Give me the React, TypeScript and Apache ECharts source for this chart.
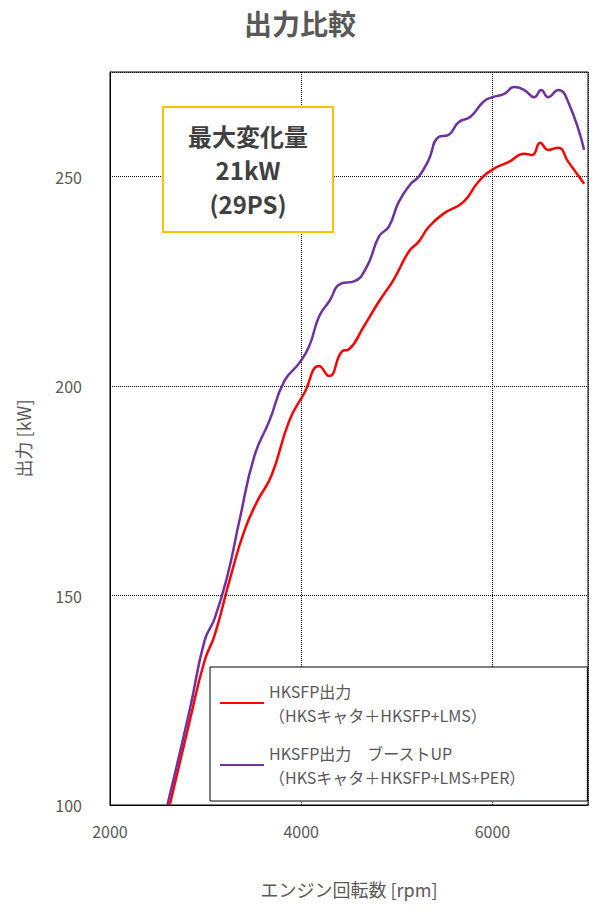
import { useEffect, useRef } from 'react';
import * as echarts from 'echarts';

const redRpm = [2625, 2833, 2990, 3094, 3250, 3406, 3542, 3688, 3875, 4031, 4188, 4292, 4427, 4500, 4656, 4813, 4969, 5125, 5229, 5333, 5490, 5698, 5854, 6000, 6177, 6333, 6417, 6500, 6583, 6688, 6792, 6960];
const redKw = [100, 120, 134.5, 140.5, 153.6, 165.5, 172.6, 178.6, 191.7, 198.3, 204.8, 202.4, 208.3, 208.8, 214.3, 220.2, 225.5, 232.1, 234.5, 238, 241.2, 244, 248.8, 251.7, 253.6, 255.5, 255.2, 258.1, 256.4, 256.9, 253.6, 248.3];
const purpleRpm = [2600, 2833, 2990, 3094, 3229, 3354, 3510, 3667, 3823, 3979, 4083, 4188, 4292, 4417, 4552, 4688, 4813, 4917, 5021, 5146, 5229, 5333, 5437, 5542, 5646, 5771, 5906, 6000, 6125, 6229, 6333, 6438, 6510, 6583, 6688, 6792, 6960];
const purpleKw = [100, 122.6, 139.3, 144.5, 154.8, 167.9, 183.3, 191.7, 201.2, 205.5, 209.5, 216.7, 220.2, 224.5, 225, 228.6, 235.7, 238.1, 244, 248.3, 250, 254, 259.5, 260, 263, 264.3, 267.9, 269, 269.8, 271.4, 270.7, 269, 270.7, 269, 270.7, 267.9, 256.4];
const seriesNames = ['HKSFP出力\n（HKSキャタ＋HKSFP+LMS）', 'HKSFP出力　ブーストUP\n（HKSキャタ＋HKSFP+LMS+PER）'];

const font = '"Noto Sans CJK JP", sans-serif';

const App = () => {
  const chartRef = useRef<HTMLDivElement>(null);

  useEffect(() => {
    if (!chartRef.current) return;
    const myChart = echarts.init(chartRef.current, null, { renderer: 'svg' });

    const option = {
      animation: false,
      textStyle: { fontFamily: font },
      title: {
        text: '出力比較',
        left: 'center',
        top: 4,
        textStyle: { fontFamily: font, fontSize: 28, fontWeight: 'bold', color: '#595959' }
      },
      grid: { left: 110, right: 12, top: 72, bottom: 113 },
      legend: {
        orient: 'vertical',
        left: 210,
        top: 667,
        width: 360,
        padding: [12, 62, 12, 10],
        itemGap: 14,
        itemWidth: 44,
        itemHeight: 2,
        borderColor: '#000',
        borderWidth: 1,
        backgroundColor: '#fff',
        icon: 'rect',
        textStyle: { fontFamily: font, fontSize: 16, color: '#595959', lineHeight: 24 },
        data: seriesNames
      },
      xAxis: {
        type: 'value',
        min: 2000,
        max: 7000,
        interval: 2000,
        name: 'エンジン回転数 [rpm]',
        nameLocation: 'middle',
        nameGap: 75,
        nameTextStyle: { fontFamily: font, fontSize: 18, color: '#595959' },
        axisLine: { show: true, onZero: false, lineStyle: { color: '#000' } },
        axisTick: { show: false },
        axisLabel: { fontSize: 16, color: '#595959', margin: 18, fontFamily: font, showMaxLabel: false, formatter: (v: number) => String(v) },
        splitLine: { lineStyle: { color: '#000', type: 'dotted' } }
      },
      yAxis: {
        type: 'value',
        min: 100,
        max: 275,
        interval: 50,
        name: '出力 [kW]',
        nameLocation: 'middle',
        nameGap: 78,
        nameTextStyle: { fontFamily: font, fontSize: 18, color: '#595959' },
        axisLine: { show: true, lineStyle: { color: '#000' } },
        axisTick: { show: false },
        axisLabel: { fontSize: 16, color: '#595959', margin: 28, fontFamily: font, showMaxLabel: false },
        splitLine: { lineStyle: { color: '#000', type: 'dotted' } }
      },
      graphic: [
        { type: 'rect', x: 110, y: 72, shape: { width: 478, height: 733 }, style: { fill: 'none', stroke: '#000', lineWidth: 1 }, silent: true },
        {
          type: 'rect', x: 163, y: 107, z: 10,
          shape: { width: 170, height: 125 },
          style: { fill: '#fff', stroke: '#FFC000', lineWidth: 2 }
        },
        {
          type: 'text', x: 248, y: 118, z: 11,
          style: {
            text: '最大変化量\n21kW\n(29PS)', textAlign: 'center',
            font: 'bold 24px "Noto Sans CJK JP", sans-serif', fill: '#404040', lineHeight: 34
          }
        }
      ],
      series: [
        {
          name: seriesNames[0], type: 'line', smooth: true, showSymbol: false,
          lineStyle: { color: '#FF0000', width: 2.5 }, itemStyle: { color: '#FF0000' },
          data: redRpm.map((r, i) => [r, redKw[i]])
        },
        {
          name: seriesNames[1], type: 'line', smooth: true, showSymbol: false,
          lineStyle: { color: '#7030A0', width: 2.5 }, itemStyle: { color: '#7030A0' },
          data: purpleRpm.map((r, i) => [r, purpleKw[i]])
        }
      ]
    };

    myChart.setOption(option);
    return () => myChart.dispose();
  }, []);

  return <div ref={chartRef} style={{ width: '600px', height: '918px', margin: '-8px' }} />;
};

export default App;
